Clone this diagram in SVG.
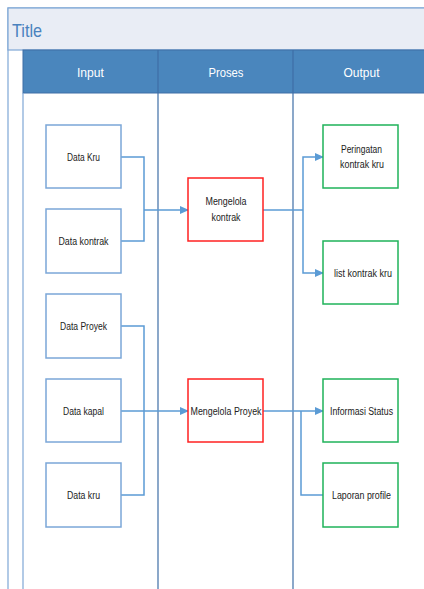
<svg xmlns="http://www.w3.org/2000/svg" width="424" height="589" viewBox="0 0 424 589">
<style>
.in{fill:#fff;stroke:#7BA7D8;stroke-width:1.5}
.pr{fill:#fff;stroke:#FF2020;stroke-width:1.5}
.out{fill:#fff;stroke:#1FB35A;stroke-width:1.5}
.t{font-family:"Liberation Sans",Arial,sans-serif;font-size:10px;fill:#222;text-anchor:middle}
.h{font-family:"Liberation Sans",Arial,sans-serif;font-size:13px;fill:#fff;text-anchor:middle}
.c{fill:none;stroke:#5B9BD5;stroke-width:1.5}
</style>
<defs>
<marker id="ar" markerWidth="10" markerHeight="10" refX="8" refY="4" orient="auto" markerUnits="userSpaceOnUse">
<path d="M0,0 L9,4 L0,8 Z" fill="#5B9BD5"/>
</marker>
</defs>
<g id="pool">
<rect x="8" y="8" width="420" height="590" fill="#fff" stroke="#7FA7D6" stroke-width="1.2"/>
<rect x="8" y="8" width="420" height="42" fill="#E9EDF5" stroke="#7FA7D6" stroke-width="1.2"/>
<text x="12" y="37" font-family="'Liberation Sans',Arial,sans-serif" font-size="19" fill="#4A82BE" textLength="30" lengthAdjust="spacingAndGlyphs">Title</text>
<rect x="23" y="50" width="405" height="43" fill="#4A86BD" stroke="#3F6EA6" stroke-width="1"/>
<line x1="23" y1="93" x2="23" y2="589" stroke="#7FA7D6" stroke-width="1.2"/>
<line x1="158" y1="50" x2="158" y2="589" stroke="#3F6EA6" stroke-width="1.2"/>
<line x1="293" y1="50" x2="293" y2="589" stroke="#3F6EA6" stroke-width="1.2"/>
<text class="h" x="90.5" y="76.5" textLength="27" lengthAdjust="spacingAndGlyphs">Input</text>
<text class="h" x="226" y="76.5" textLength="35" lengthAdjust="spacingAndGlyphs">Proses</text>
<text class="h" x="361.5" y="76.5" textLength="36" lengthAdjust="spacingAndGlyphs">Output</text>
</g>
<g id="connectors">
<path class="c" d="M121,157 H144 V210"/>
<path class="c" d="M121,241 H144 V210"/>
<path class="c" d="M144,210 H188" marker-end="url(#ar)"/>
<path class="c" d="M263,210 H303"/>
<path class="c" d="M303,210 V157 H323" marker-end="url(#ar)"/>
<path class="c" d="M303,210 V273 H323" marker-end="url(#ar)"/>
<path class="c" d="M121,326 H144 V411"/>
<path class="c" d="M121,495 H144 V411"/>
<path class="c" d="M121,411 H188" marker-end="url(#ar)"/>
<path class="c" d="M263,411 H323" marker-end="url(#ar)"/>
<path class="c" d="M301,411 V495 H323"/>
</g>
<g id="data-kru"><rect class="in" x="46" y="125" width="75" height="63"/><text class="t" x="83.5" y="160.5" textLength="33" lengthAdjust="spacingAndGlyphs">Data Kru</text></g>
<g id="data-kontrak"><rect class="in" x="46" y="209" width="75" height="64"/><text class="t" x="83.5" y="244.5" textLength="50" lengthAdjust="spacingAndGlyphs">Data kontrak</text></g>
<g id="data-proyek"><rect class="in" x="46" y="294" width="75" height="64"/><text class="t" x="83.5" y="329.5" textLength="47" lengthAdjust="spacingAndGlyphs">Data Proyek</text></g>
<g id="data-kapal"><rect class="in" x="46" y="379" width="75" height="63"/><text class="t" x="83.5" y="414.5" textLength="41" lengthAdjust="spacingAndGlyphs">Data kapal</text></g>
<g id="data-kru2"><rect class="in" x="46" y="463" width="75" height="64"/><text class="t" x="83.5" y="498.5" textLength="33" lengthAdjust="spacingAndGlyphs">Data kru</text></g>
<g id="mengelola-kontrak"><rect class="pr" x="188" y="178" width="75" height="63"/><text class="t" x="226" y="205" textLength="41" lengthAdjust="spacingAndGlyphs">Mengelola</text><text class="t" x="226" y="221" textLength="29" lengthAdjust="spacingAndGlyphs">kontrak</text></g>
<g id="mengelola-proyek"><rect class="pr" x="188" y="379" width="75" height="63"/><text class="t" x="226" y="414.5" textLength="71" lengthAdjust="spacingAndGlyphs">Mengelola Proyek</text></g>
<g id="peringatan"><rect class="out" x="323" y="125" width="75" height="63"/><text class="t" x="361.5" y="152.5" textLength="41" lengthAdjust="spacingAndGlyphs">Peringatan</text><text class="t" x="362" y="168" textLength="44" lengthAdjust="spacingAndGlyphs">kontrak kru</text></g>
<g id="list-kontrak"><rect class="out" x="323" y="241" width="75" height="63"/><text class="t" x="363" y="276.5" textLength="58" lengthAdjust="spacingAndGlyphs">list kontrak kru</text></g>
<g id="informasi-status"><rect class="out" x="323" y="379" width="75" height="63"/><text class="t" x="361.5" y="414.5" textLength="63" lengthAdjust="spacingAndGlyphs">Informasi Status</text></g>
<g id="laporan-profile"><rect class="out" x="323" y="463" width="75" height="64"/><text class="t" x="361.5" y="498.5" textLength="59" lengthAdjust="spacingAndGlyphs">Laporan profile</text></g>
</svg>
